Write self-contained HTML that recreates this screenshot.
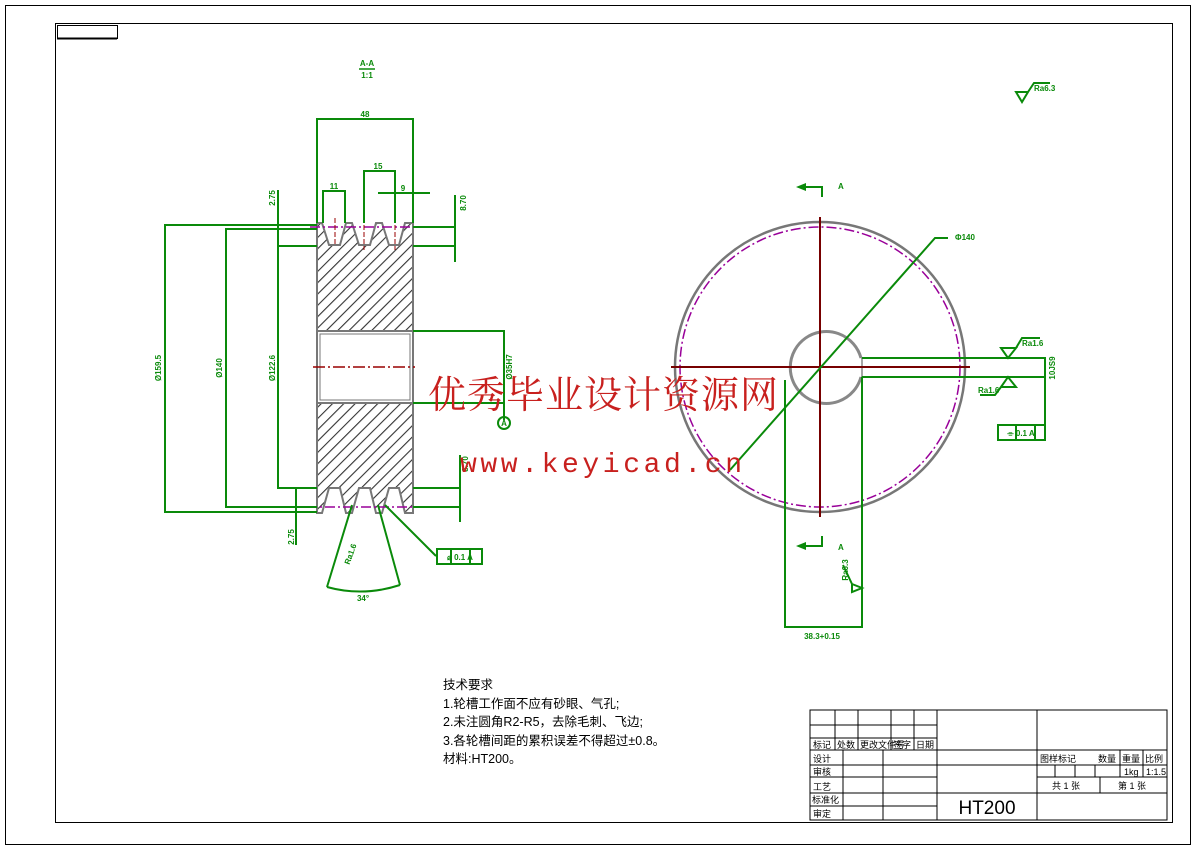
<!DOCTYPE html>
<html><head><meta charset="utf-8"><style>
html,body{margin:0;padding:0;background:#fff;}
svg{display:block}
.g{stroke:#0a8a0a;stroke-width:2;fill:none}
.gt{fill:#0a8a0a;font-family:"Liberation Sans",sans-serif;font-weight:bold;font-size:8px}
.k{stroke:#000;fill:none;stroke-width:1}
.tb{font-family:"Liberation Sans","Noto Sans CJK SC",sans-serif;font-size:9px;fill:#000}
</style></head><body>
<svg width="1200" height="851" viewBox="0 0 1200 851" xmlns="http://www.w3.org/2000/svg">
<defs>
<pattern id="h" width="8" height="8" patternUnits="userSpaceOnUse" patternTransform="rotate(45)">
<rect width="8" height="8" fill="#fff"/><line x1="0" y1="0" x2="0" y2="8" stroke="#333" stroke-width="2.2"/>
</pattern>
</defs>
<rect x="0" y="0" width="1200" height="851" fill="#fff"/>
<rect x="5.5" y="5.5" width="1185" height="839" class="k"/>
<rect x="55.5" y="23.5" width="1117" height="799" class="k" stroke-width="1.5"/>
<rect x="57.5" y="25.5" width="60" height="13" class="k"/>
<line x1="57" y1="38.5" x2="117" y2="38.5" stroke="#000" stroke-width="2"/>

<g>
<text x="367" y="66" class="gt" text-anchor="middle">A-A</text>
<line x1="359" y1="69" x2="375" y2="69" stroke="#0a8a0a" stroke-width="1.5"/>
<text x="367" y="78" class="gt" text-anchor="middle">1:1</text>
<path d="M317,223 L322,223 L329,245 L340,245 L346,223 L352,223 L359,245 L370,245 L376,223 L382,223 L389,245 L399,245 L405,223 L413,223 L413,331 L317,331 Z" fill="url(#h)" stroke="#777" stroke-width="2"/>
<path d="M317,513 L322,513 L329,488 L340,488 L346,513 L352,513 L359,488 L370,488 L376,513 L382,513 L389,488 L399,488 L405,513 L413,513 L413,403 L317,403 Z" fill="url(#h)" stroke="#777" stroke-width="2"/>
<rect x="317" y="331" width="96" height="72" fill="#fff" stroke="#777" stroke-width="2"/>
<rect x="320" y="334" width="90" height="66" fill="none" stroke="#777" stroke-width="1"/>
<line x1="313" y1="367" x2="415" y2="367" stroke="#900" stroke-width="1.5" stroke-dasharray="12,3,2,3"/>
<line x1="310" y1="227" x2="440" y2="227" stroke="#909" stroke-width="1.5" stroke-dasharray="10,3,2,3"/>
<line x1="307" y1="507" x2="422" y2="507" stroke="#909" stroke-width="1.5" stroke-dasharray="10,3,2,3"/>
<line x1="335" y1="218" x2="335" y2="246" stroke="#900" stroke-width="1" stroke-dasharray="5,2"/>
<line x1="364" y1="218" x2="364" y2="250" stroke="#900" stroke-width="1" stroke-dasharray="5,2"/>
<line x1="395" y1="218" x2="395" y2="250" stroke="#900" stroke-width="1" stroke-dasharray="5,2"/>
<g class="g">
<path d="M317,223 V119 H413 V223"/>
<path d="M364,223 V171 H395 V223"/>
<path d="M323,223 V191 H345 V223"/>
<path d="M378,193 H430 M395,186 V200"/>
<path d="M317,225 H165 V512 H317"/>
<path d="M317,229 H226 V507 H317"/>
<path d="M317,246 H278 V488 H317"/>
<line x1="278" y1="190" x2="278" y2="246"/>
<path d="M413,246 H455 M413,227 H455 M455,195 V262"/>
<path d="M413,488 H460 M413,507 H460 M460,455 V522"/>
<path d="M296,488 V545"/>
<path d="M413,331 H504 V420 M413,403 H504"/>
<circle cx="504" cy="423" r="6"/>
<path d="M352,505 L327,587 M378,505 L400,585 M327,587 Q363,597 400,585"/>
<path d="M385,505 L436,556"/>
<rect x="437" y="549" width="45" height="15"/>
<line x1="451" y1="549" x2="451" y2="564"/><line x1="470" y1="549" x2="470" y2="564"/>
</g>
<text x="365" y="117" class="gt" text-anchor="middle">48</text>
<text x="378" y="169" class="gt" text-anchor="middle">15</text>
<text x="334" y="189" class="gt" text-anchor="middle">11</text>
<text x="403" y="191" class="gt" text-anchor="middle">9</text>
<text class="gt" transform="translate(161,368) rotate(-90)" text-anchor="middle">Ø159.5</text>
<text class="gt" transform="translate(222,368) rotate(-90)" text-anchor="middle">Ø140</text>
<text class="gt" transform="translate(275,368) rotate(-90)" text-anchor="middle">Ø122.6</text>
<text class="gt" transform="translate(275,198) rotate(-90)" text-anchor="middle">2.75</text>
<text class="gt" transform="translate(294,537) rotate(-90)" text-anchor="middle">2.75</text>
<text class="gt" transform="translate(466,203) rotate(-90)" text-anchor="middle">8.70</text>
<text class="gt" transform="translate(468,464) rotate(-90)" text-anchor="middle">8.70</text>
<text class="gt" transform="translate(512,367) rotate(-90)" text-anchor="middle">Ø35H7</text>
<text x="504" y="426" class="gt" text-anchor="middle">A</text>
<text x="363" y="601" class="gt" text-anchor="middle">34°</text>
<text class="gt" transform="translate(353,555) rotate(-70)" text-anchor="middle">Ra1.6</text>
<text x="460" y="560" class="gt" text-anchor="middle">⌀ 0.1 A</text>
</g>

<g>
<circle cx="820" cy="367" r="145" fill="none" stroke="#777" stroke-width="2.5"/>
<circle cx="820" cy="367" r="140" fill="none" stroke="#909" stroke-width="1.5" stroke-dasharray="10,3,2,3"/>
<path d="M861,358 A36,36 0 1 0 861,377" fill="none" stroke="#888" stroke-width="3"/>
<path d="M861,358 H862 V377 H861" fill="none" stroke="#888" stroke-width="1.5"/>
<line x1="671" y1="367" x2="970" y2="367" stroke="#700" stroke-width="2"/>
<line x1="820" y1="217" x2="820" y2="517" stroke="#700" stroke-width="2"/>
<g class="g">
<path d="M862,358 H1045 V377 H862"/>
<path d="M1045,377 V440"/>
<rect x="998" y="425" width="47" height="15"/>
<line x1="1016" y1="425" x2="1016" y2="440"/><line x1="1035" y1="425" x2="1035" y2="440"/>
<path d="M730,470 L935,238 H948"/>
<path d="M785,380 V627 H862 V377"/>
<path d="M1001,348 L1008,358 L1016,348 Z M1016,348 L1022,338 H1040"/>
<path d="M1001,387 L1008,377 L1016,387 Z M1001,387 L995,395 H980"/>
<path d="M852,584 L862,588 L852,592 Z M852,584 L843,565"/>
<path d="M1016,92 L1022,102 L1028,92 Z M1028,92 L1034,83 H1050"/>
<path d="M800,187 H822 V197 M800,546 H822 V536"/>
</g>
<polygon points="796,187 806,183 806,191" fill="#0a8a0a"/>
<polygon points="796,546 806,542 806,550" fill="#0a8a0a"/>
<text x="838" y="189" class="gt">A</text>
<text x="838" y="550" class="gt">A</text>
<text x="955" y="240" class="gt">Φ140</text>
<text x="1022" y="346" class="gt">Ra1.6</text>
<text x="978" y="393" class="gt">Ra1.6</text>
<text x="1034" y="91" class="gt">Ra6.3</text>
<text class="gt" transform="translate(848,570) rotate(-90)" text-anchor="middle">Ra6.3</text>
<text class="gt" transform="translate(1055,368) rotate(-90)" text-anchor="middle">10JS9</text>
<text x="1021" y="436" class="gt" text-anchor="middle">⌯ 0.1 A</text>
<text x="822" y="639" class="gt" text-anchor="middle">38.3+0.15</text>
</g>

<text x="428" y="408" font-family="'Liberation Serif','Noto Serif CJK SC',serif" font-size="38" fill="#c8201e" textLength="350">优秀毕业设计资源网</text>
<text x="460" y="472" font-family="'Liberation Mono',monospace" font-size="28" fill="#c8201e" textLength="282">www.keyicad.cn</text>

<g font-family="'Liberation Sans','Noto Sans CJK SC',sans-serif" font-size="12.5" fill="#000">
<text x="443" y="689">技术要求</text>
<text x="443" y="708">1.轮槽工作面不应有砂眼、气孔;</text>
<text x="443" y="726">2.未注圆角R2-R5，去除毛刺、飞边;</text>
<text x="443" y="745">3.各轮槽间距的累积误差不得超过±0.8。</text>
<text x="443" y="763">材料:HT200。</text>
</g>

<g class="k" stroke-width="1.5">
<rect x="810" y="710" width="357" height="110"/>
<path d="M810,725 H937 M810,738 H937 M810,750 H1167 M810,765 H1167 M810,777 H937 M810,793 H1167 M810,806 H937 M1037,777 H1167"/>
<path d="M835,710 V750 M858,710 V750 M891,710 V750 M914,710 V750 M937,710 V820 M1037,710 V820"/>
<path d="M843,750 V820 M883,750 V820"/>
<path d="M1055,765 V777 M1075,765 V777 M1095,765 V777 M1120,750 V777 M1143,750 V777 M1100,777 V793"/>
</g>
<g class="tb">
<text x="813" y="748">标记</text><text x="837" y="748">处数</text><text x="860" y="748">更改文件号</text><text x="893" y="748">签字</text><text x="916" y="748">日期</text>
<text x="813" y="762">设计</text><text x="813" y="775">审核</text><text x="813" y="790">工艺</text><text x="812" y="803">标准化</text><text x="813" y="817">审定</text>
<text x="1040" y="762">图样标记</text><text x="1098" y="762">数量</text><text x="1122" y="762">重量</text><text x="1145" y="762">比例</text>
<text x="1124" y="775">1kg</text><text x="1146" y="775">1:1.5</text>
<text x="1052" y="789">共 1 张</text><text x="1118" y="789">第 1 张</text>
</g>
<text x="987" y="814" font-family="'Liberation Sans',sans-serif" font-size="19" fill="#000" text-anchor="middle">HT200</text>
</svg>
</body></html>
